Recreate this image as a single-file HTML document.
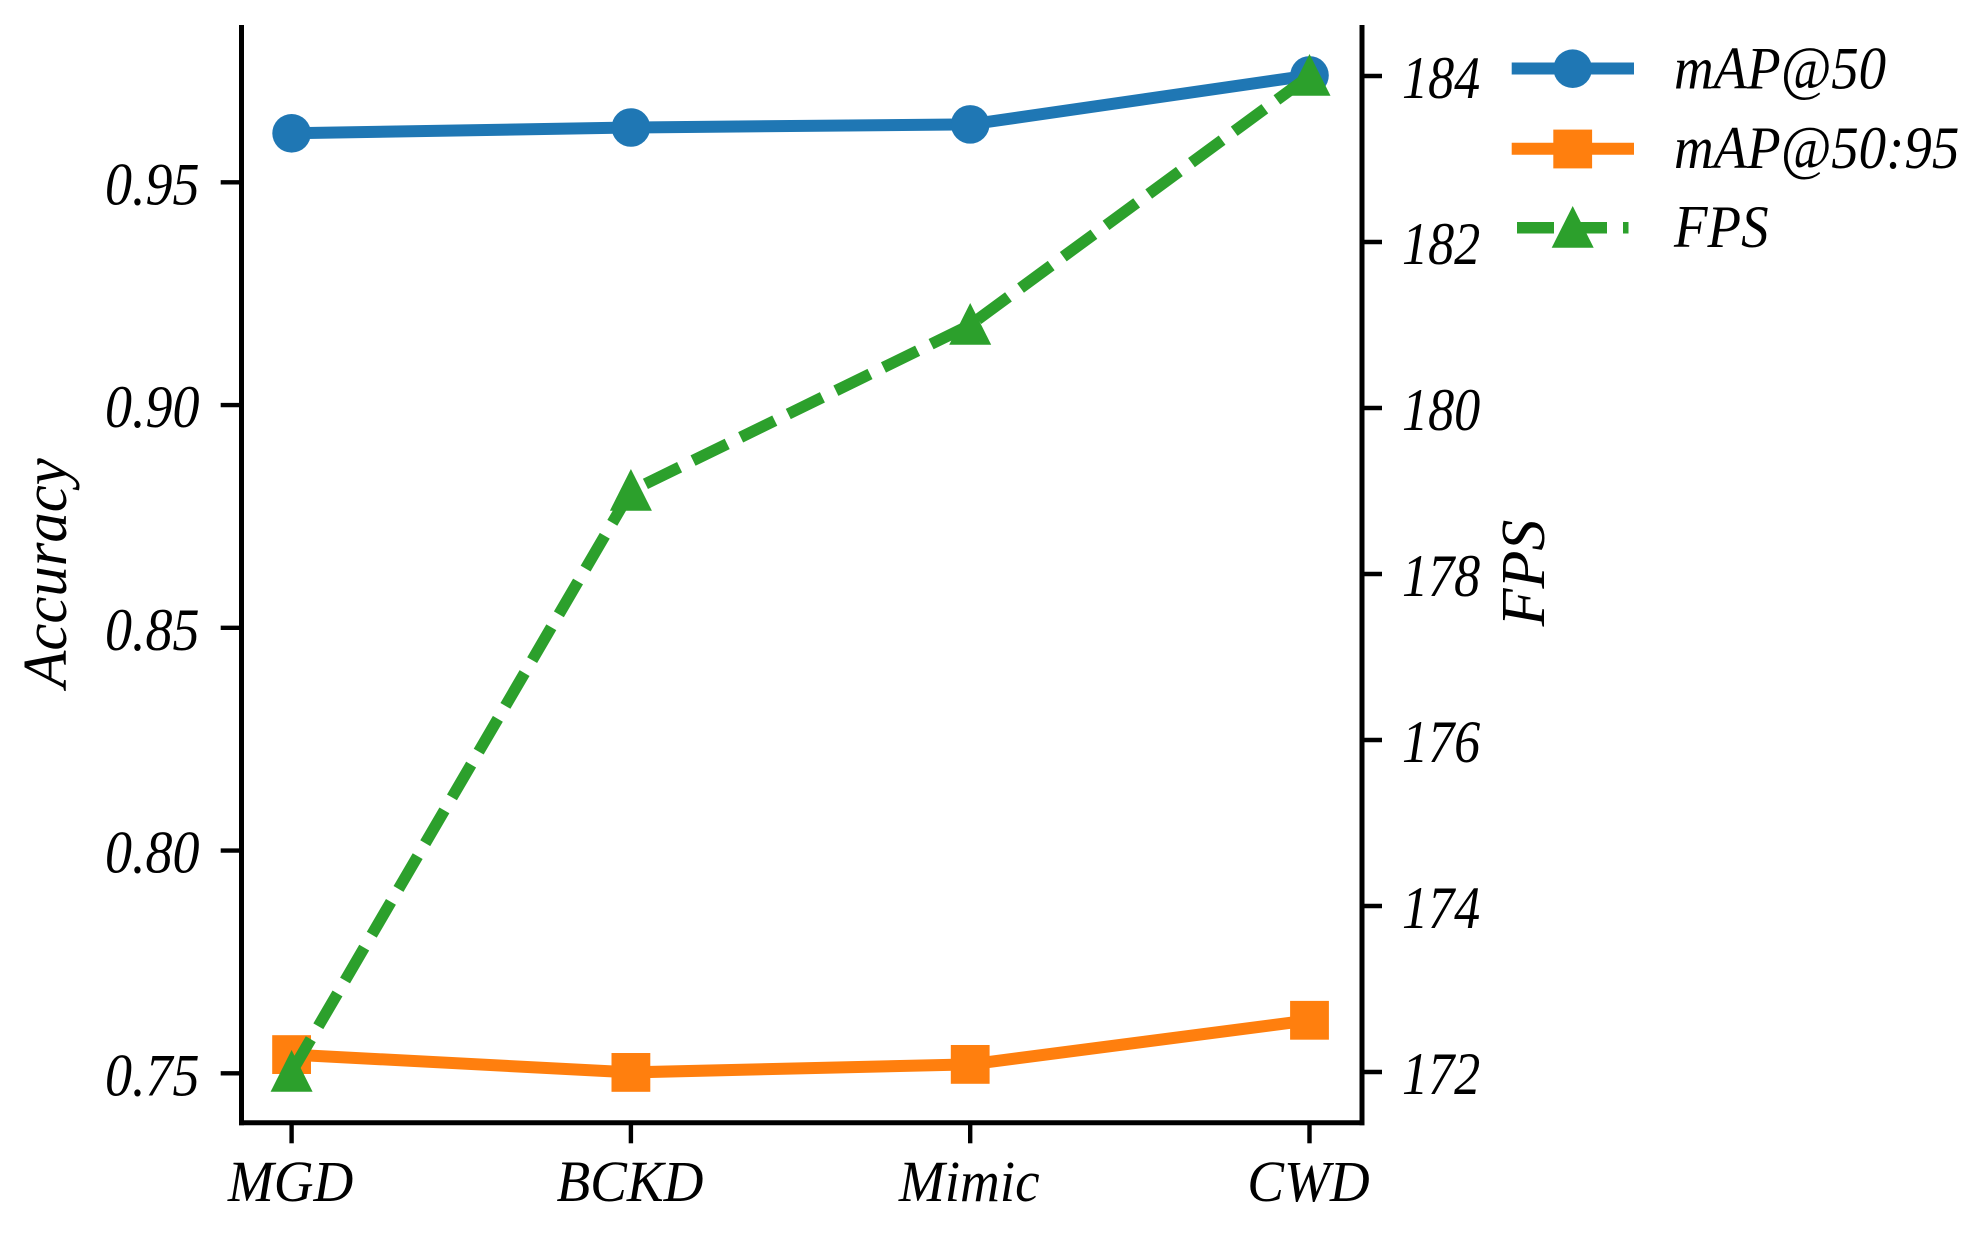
<!DOCTYPE html>
<html lang="en">
<head>
<meta charset="utf-8">
<title>Accuracy and FPS by method</title>
<style>
html,body{margin:0;padding:0;background:#fff;width:1975px;height:1233px;overflow:hidden}
svg{display:block}
text{font-family:"Liberation Serif",serif;font-style:italic;fill:#000}
</style>
</head>
<body>
<svg id="chart" xmlns="http://www.w3.org/2000/svg" width="1975" height="1233" viewBox="0 0 1975 1233"></svg>
<script>
const categories = ['MGD', 'BCKD', 'Mimic', 'CWD'];
const mapAt50 = [0.961, 0.9623, 0.963, 0.974];
const mapAt5095 = [0.7542, 0.7502, 0.752, 0.7619];
const fps = [172, 179, 181, 184];
const accuracyTicks = [0.75, 0.80, 0.85, 0.90, 0.95];
const fpsTicks = [172, 174, 176, 178, 180, 182, 184];

const NS = 'http://www.w3.org/2000/svg';
const svg = document.getElementById('chart');
const BLUE = '#1f77b4', ORANGE = '#ff7f0e', GREEN = '#2ca02c';
const LW = 12, GREEN_LW = 11.5, TICK_W = 4.4, SPINE_W = 5, TICK_LEN = 20;
const TICK_FONT = 60, X_FONT = 58, LABEL_FONT = 63, LEGEND_FONT = 60;
const LEFT = 241.5, RIGHT = 1362, TOP = 25, BOTTOM = 1122.7;

const xPos = i => 291.6 + i * 339.3;
const yAcc = v => 1073.3 - (v - 0.75) * 4455;
const yFps = v => 1072 - (v - 172) * 83;

function el(tag, attrs) {
  const n = document.createElementNS(NS, tag);
  for (const k in attrs) n.setAttribute(k, attrs[k]);
  svg.appendChild(n);
  return n;
}
function line(x1, y1, x2, y2, w) {
  return el('line', {x1, y1, x2, y2, stroke: '#000', 'stroke-width': w});
}
function text(str, x, y, size, anchor, sx) {
  const t = el('text', {x: 0, y: 0, 'font-size': size, 'text-anchor': anchor, transform: 'translate(' + x + ' ' + y + ') scale(' + sx + ' 1)'});
  t.textContent = str;
  return t;
}
function circleMark(x, y) {
  return el('circle', {cx: x, cy: y, r: 19.3, fill: BLUE});
}
function squareMark(x, y) {
  return el('rect', {x: x - 19.4, y: y - 19.4, width: 38.8, height: 38.8, fill: ORANGE});
}
function triangleMark(x, y) {
  const pts = [[x, y - 22], [x - 21, y + 19.7], [x + 21, y + 19.7]].map(p => p.join(',')).join(' ');
  return el('polygon', {points: pts, fill: GREEN});
}
function seriesPath(values, yFn, color, width, dash) {
  const attrs = {
    points: values.map((v, i) => xPos(i) + ',' + yFn(v)).join(' '),
    fill: 'none', stroke: color, 'stroke-width': width, 'stroke-linejoin': 'round'
  };
  if (dash) attrs['stroke-dasharray'] = '38 15';
  return el('polyline', attrs);
}

/* spines */
const spineLeft = line(LEFT, TOP, LEFT, BOTTOM + 2.5, SPINE_W);


const spineRight = line(RIGHT, TOP, RIGHT, BOTTOM + 2.5, SPINE_W);


const spineBottom = line(LEFT - 2.5, BOTTOM, RIGHT + 2.5, BOTTOM, SPINE_W);



/* x axis */
categories.forEach((c, i) => {
  const t = line(xPos(i), BOTTOM, xPos(i), BOTTOM + TICK_LEN + 0.6, TICK_W);
  
  
  const l = text(c, xPos(i) - 1, 1201, X_FONT, 'middle', 0.95);
  
  
});

/* left y axis */
accuracyTicks.forEach(v => {
  const t = line(LEFT - TICK_LEN - 0.8, yAcc(v), LEFT, yAcc(v), TICK_W);
  
  
  const l = text(v.toFixed(2), 199.5, yAcc(v) + 22, TICK_FONT, 'end', 0.9);
  
  
});

/* right y axis */
fpsTicks.forEach(v => {
  const t = line(RIGHT, yFps(v), RIGHT + TICK_LEN, yFps(v), TICK_W);
  
  
  const l = text(String(v), 1402, yFps(v) + 22, TICK_FONT, 'start', 0.87);
  
  
});

/* axis titles */
const yTitle = text('Accuracy', 0, 0, LABEL_FONT, 'middle', 0.965);
yTitle.setAttribute('transform', 'translate(66 573) rotate(-90) scale(0.965 1)');


const y2Title = text('FPS', 0, 0, LABEL_FONT, 'middle', 0.985);
y2Title.setAttribute('transform', 'translate(1544 573) rotate(-90) scale(0.985 1)');



/* series: mAP@50 */
const blueLine = seriesPath(mapAt50, yAcc, BLUE, LW, false);


mapAt50.forEach((v, i) => {
  const m = circleMark(xPos(i), yAcc(v));
  
  
});

/* series: mAP@50:95 */
const orangeLine = seriesPath(mapAt5095, yAcc, ORANGE, LW, false);


mapAt5095.forEach((v, i) => {
  const m = squareMark(xPos(i), yAcc(v));
  
  
});

/* series: FPS */
const greenLine = seriesPath(fps, yFps, GREEN, GREEN_LW, true);


fps.forEach((v, i) => {
  const m = triangleMark(xPos(i), yFps(v));
  
  
});

/* legend */
const LEG_X1 = 1517, LEG_X2 = 1628.5, LEG_MID = 1572.7, LEG_TEXT = 1674;
const blueKey = el('line', {x1: LEG_X1 - 5.3, y1: 68.5, x2: LEG_X2 + 5.5, y2: 68.5, stroke: BLUE, 'stroke-width': LW});


const blueKeyMark = circleMark(LEG_MID, 68.7);


const blueKeyText = text('mAP@50', LEG_TEXT, 88.5, LEGEND_FONT, 'start', 0.915);



const orangeKey = el('line', {x1: LEG_X1 - 5.3, y1: 148.7, x2: LEG_X2 + 5.5, y2: 148.7, stroke: ORANGE, 'stroke-width': LW});


const orangeKeyMark = squareMark(LEG_MID, 149);


const orangeKeyText = text('mAP@50:95', LEG_TEXT, 168, LEGEND_FONT, 'start', 0.915);



const greenKey = el('line', {x1: LEG_X1, y1: 227.7, x2: LEG_X2, y2: 227.7, stroke: GREEN, 'stroke-width': GREEN_LW, 'stroke-dasharray': '37 16'});


const greenKeyMark = triangleMark(LEG_MID, 228);


const greenKeyText = text('FPS', LEG_TEXT, 247, LEGEND_FONT, 'start', 0.915);


</script>
</body>
</html>
